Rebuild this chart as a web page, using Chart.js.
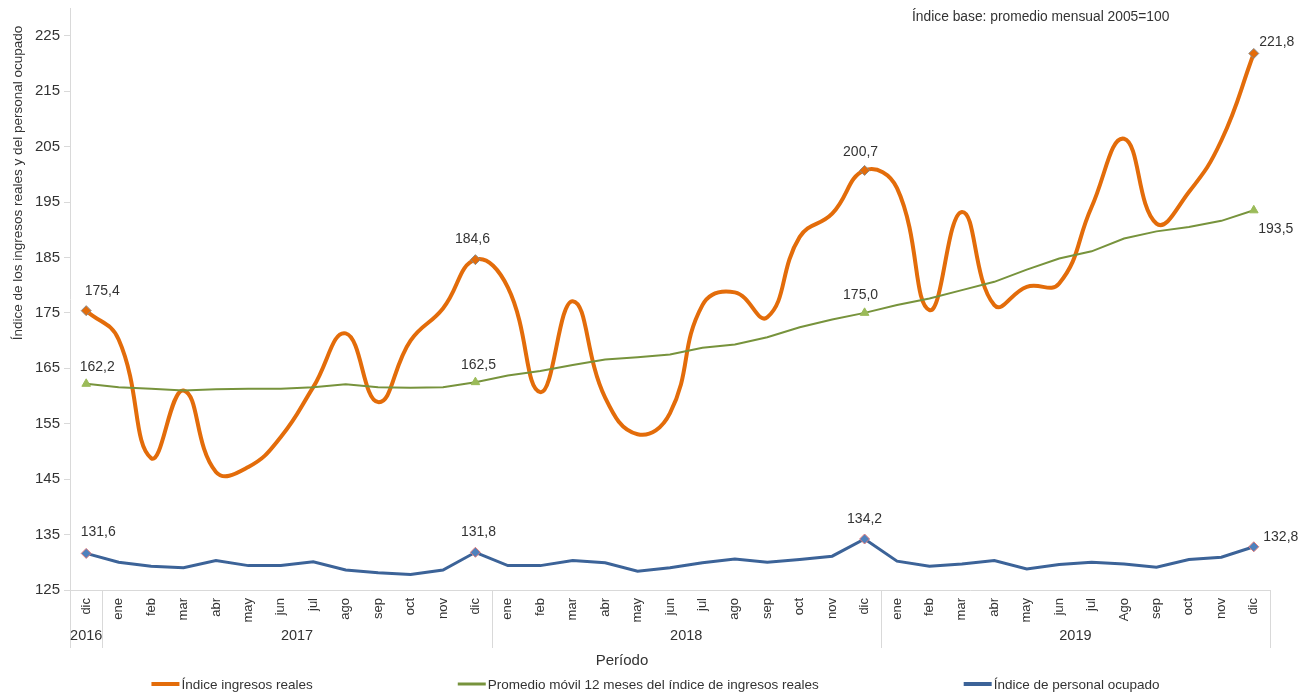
<!DOCTYPE html>
<html><head><meta charset="utf-8">
<script src="https://cdn.jsdelivr.net/npm/chart.js@4"></script>
<style>html,body{margin:0;padding:0;background:#fff}#wrap{width:1307px;height:694px;position:relative}</style>
</head><body><div id="wrap"><canvas id="c" width="1307" height="694"></canvas></div>
<script>
const months = ['dic',
  'ene','feb','mar','abr','may','jun','jul','ago','sep','oct','nov','dic',
  'ene','feb','mar','abr','may','jun','jul','ago','sep','oct','nov','dic',
  'ene','feb','mar','abr','may','jun','jul','Ago','sep','oct','nov','dic'];
const years = ['2016','2017','2018','2019'];
const yearSpans = [1,12,12,12];
const ingresosReales = [175.4,
  170.2,148.8,161.0,146.3,147.2,152.6,161.6,171.3,158.9,170.0,175.8,184.6,
  179.6,160.7,177.1,159.7,153.1,156.9,176.4,178.7,174.2,188.7,192.9,200.7,
  197.5,175.5,193.2,176.4,179.7,180.3,194.1,206.4,191.1,196.8,206.1,221.8];
const promedioMovil = [162.2,
  161.6,161.3,161.0,161.2,161.3,161.3,161.6,162.1,161.6,161.5,161.6,162.5,
  163.7,164.5,165.6,166.6,167.0,167.5,168.7,169.3,170.6,172.4,173.8,175.0,
  176.4,177.6,179.1,180.6,182.8,184.8,186.1,188.4,189.7,190.5,191.6,193.5];
const personalOcupado = [131.6,
  130.0,129.3,129.0,130.3,129.4,129.4,130.1,128.6,128.1,127.8,128.6,131.8,
  129.4,129.4,130.3,129.9,128.4,129.0,129.9,130.6,130.0,130.5,131.1,134.2,
  130.2,129.3,129.7,130.3,128.8,129.6,130.0,129.7,129.1,130.5,130.9,132.8];
const seriesNames = ['Índice ingresos reales','Promedio móvil 12 meses del índice de ingresos reales','Índice de personal ocupado'];
const yTicks = [125,135,145,155,165,175,185,195,205,215,225];
const labeledIdx = [0,12,24,36];

const FONT = 'Liberation Sans, Arial, sans-serif';
const TXT = '#333333';
const AXC = '#d9d9d9';
const radii = months.map((_, i) => labeledIdx.includes(i) ? 5 : 0);

// label offsets (style only)
const labelOffsets = [
  [[16,-19],[-3,-21],[-4,-18],[23,-11]],
  [[11,-17],[3,-17],[-4,-18],[22,19]],
  [[12,-21],[3,-20],[0,-20],[27,-10]]
];

const decorPlugin = {
  id: 'decor',
  afterDraw(chart) {
    const ctx = chart.ctx, xs = chart.scales.x, ca = chart.chartArea;
    ctx.save();
    // data labels
    chart.data.datasets.forEach((ds, di) => {
      const meta = chart.getDatasetMeta(di);
      labeledIdx.forEach((idx, k) => {
        const el = meta.data[idx];
        const off = labelOffsets[di][k];
        ctx.font = '14px ' + FONT;
        ctx.fillStyle = TXT;
        ctx.textAlign = 'center';
        ctx.textBaseline = 'middle';
        ctx.fillText(ds.data[idx].toFixed(1).replace('.', ','), el.x + off[0], el.y + off[1]);
      });
    });
    // year separators & labels
    const yTop = ca.bottom, yBot = ca.bottom + 58;
    const bounds = [ca.left];
    let acc = 0;
    yearSpans.forEach((n) => {
      acc += n;
      if (acc < months.length) {
        bounds.push((xs.getPixelForValue(acc - 1) + xs.getPixelForValue(acc)) / 2);
      } else bounds.push(ca.right);
    });
    ctx.strokeStyle = AXC; ctx.lineWidth = 1;
    bounds.forEach(b => {
      const x = Math.round(b) + 0.5;
      ctx.beginPath(); ctx.moveTo(x, yTop); ctx.lineTo(x, yBot); ctx.stroke();
    });
    ctx.font = '14.5px ' + FONT; ctx.fillStyle = TXT;
    ctx.textAlign = 'center'; ctx.textBaseline = 'middle';
    years.forEach((y, i) => ctx.fillText(y, (bounds[i] + bounds[i + 1]) / 2, ca.bottom + 46));
    // axis title x
    ctx.font = '15px ' + FONT;
    ctx.fillText('Período', 622, 661);
    // y axis title
    ctx.save();
    ctx.translate(18, 183);
    ctx.rotate(-Math.PI / 2);
    ctx.font = '13.5px ' + FONT;
    ctx.fillText('Índice de los ingresos reales y del personal ocupado', 0, 0);
    ctx.restore();
    // subtitle
    ctx.font = '13.8px ' + FONT; ctx.textAlign = 'left';
    ctx.fillText('Índice base: promedio mensual 2005=100', 912, 17);
    // legend
    ctx.font = '13.5px ' + FONT;
    const sample = 28, gapT = 2, gap = 145;
    const widths = chart.data.datasets.map(ds => sample + gapT + ctx.measureText(ds.label).width);
    const total = widths.reduce((a, b) => a + b, 0) + gap * (widths.length - 1);
    let x = (chart.width - total) / 2 + 2;
    const ly = 684;
    chart.data.datasets.forEach((ds, i) => {
      ctx.strokeStyle = ds.borderColor; ctx.lineWidth = ds.legendWidth;
      ctx.beginPath(); ctx.moveTo(x, ly); ctx.lineTo(x + sample, ly); ctx.stroke();
      ctx.fillStyle = TXT; ctx.textAlign = 'left'; ctx.textBaseline = 'middle';
      ctx.fillText(ds.label, x + sample + gapT, ly + 1);
      x += widths[i] + gap;
    });
    ctx.restore();
  }
};

new Chart(document.getElementById('c'), {
  type: 'line',
  data: {
    labels: months,
    datasets: [
      { label: seriesNames[0], data: ingresosReales, borderColor: '#E36C0A', borderWidth: 4,
        tension: 0.45, pointStyle: 'rectRot', pointRadius: radii, pointBackgroundColor: '#E36C0A',
        pointBorderColor: '#8a8a8a', pointBorderWidth: 1, order: 3, legendWidth: 4 },
      { label: seriesNames[1], data: promedioMovil, borderColor: '#77933C', borderWidth: 2,
        tension: 0, pointStyle: 'triangle', pointRadius: radii, pointBackgroundColor: '#9BBB59',
        pointBorderColor: '#9BBB59', pointBorderWidth: 1, order: 2, legendWidth: 3 },
      { label: seriesNames[2], data: personalOcupado, borderColor: '#3C6398', borderWidth: 3,
        tension: 0, pointStyle: 'rectRot', pointRadius: radii, pointBackgroundColor: '#4F81BD',
        pointBorderColor: '#E07A7A', pointBorderWidth: 1, order: 1, legendWidth: 4 }
    ]
  },
  options: {
    responsive: false,
    animation: false,
    layout: { padding: { left: 0, right: 37, top: 8, bottom: 0 } },
    plugins: { legend: { display: false }, tooltip: { enabled: false }, title: { display: false } },
    scales: {
      x: {
        type: 'category', offset: true,
        grid: { display: false, drawTicks: false },
        border: { display: true, color: AXC, width: 1 },
        ticks: { autoSkip: false, maxRotation: 90, minRotation: 90, padding: 8,
                 color: TXT, font: { family: FONT, size: 13 } },
        afterFit(s) { s.height = 104; s.paddingLeft = 0; s.paddingRight = 0; }
      },
      y: {
        min: 125, max: 230,
        afterBuildTicks(s) { s.ticks = yTicks.map(v => ({ value: v })); },
        grid: { drawOnChartArea: false, drawTicks: true, tickLength: 6, color: AXC },
        border: { display: true, color: AXC, width: 1 },
        ticks: { padding: 4, color: TXT, font: { family: FONT, size: 15 } },
        afterFit(s) { s.width = 70; s.paddingTop = 0; s.paddingBottom = 0; }
      }
    }
  },
  plugins: [decorPlugin]
});
</script>
</body></html>
